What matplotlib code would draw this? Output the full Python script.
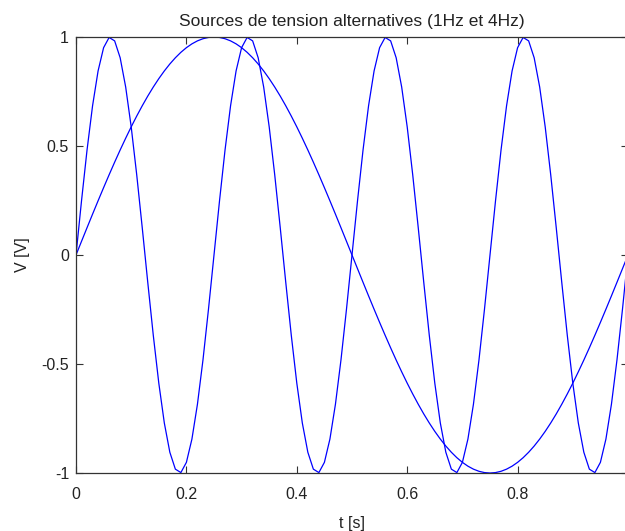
import matplotlib
matplotlib.use('Agg')
import matplotlib.pyplot as plt

t_s = [
    0.00, 0.01, 0.02, 0.03, 0.04, 0.05, 0.06, 0.07, 0.08, 0.09,
    0.10, 0.11, 0.12, 0.13, 0.14, 0.15, 0.16, 0.17, 0.18, 0.19,
    0.20, 0.21, 0.22, 0.23, 0.24, 0.25, 0.26, 0.27, 0.28, 0.29,
    0.30, 0.31, 0.32, 0.33, 0.34, 0.35, 0.36, 0.37, 0.38, 0.39,
    0.40, 0.41, 0.42, 0.43, 0.44, 0.45, 0.46, 0.47, 0.48, 0.49,
    0.50, 0.51, 0.52, 0.53, 0.54, 0.55, 0.56, 0.57, 0.58, 0.59,
    0.60, 0.61, 0.62, 0.63, 0.64, 0.65, 0.66, 0.67, 0.68, 0.69,
    0.70, 0.71, 0.72, 0.73, 0.74, 0.75, 0.76, 0.77, 0.78, 0.79,
    0.80, 0.81, 0.82, 0.83, 0.84, 0.85, 0.86, 0.87, 0.88, 0.89,
    0.90, 0.91, 0.92, 0.93, 0.94, 0.95, 0.96, 0.97, 0.98, 0.99,
    1.00,
]

v_1hz = [
    0.0000, 0.0628, 0.1253, 0.1874, 0.2487, 0.3090, 0.3681, 0.4258, 0.4818, 0.5358,
    0.5878, 0.6374, 0.6845, 0.7290, 0.7705, 0.8090, 0.8443, 0.8763, 0.9048, 0.9298,
    0.9511, 0.9686, 0.9823, 0.9921, 0.9980, 1.0000, 0.9980, 0.9921, 0.9823, 0.9686,
    0.9511, 0.9298, 0.9048, 0.8763, 0.8443, 0.8090, 0.7705, 0.7290, 0.6845, 0.6374,
    0.5878, 0.5358, 0.4818, 0.4258, 0.3681, 0.3090, 0.2487, 0.1874, 0.1253, 0.0628,
    0.0000, -0.0628, -0.1253, -0.1874, -0.2487, -0.3090, -0.3681, -0.4258, -0.4818, -0.5358,
    -0.5878, -0.6374, -0.6845, -0.7290, -0.7705, -0.8090, -0.8443, -0.8763, -0.9048, -0.9298,
    -0.9511, -0.9686, -0.9823, -0.9921, -0.9980, -1.0000, -0.9980, -0.9921, -0.9823, -0.9686,
    -0.9511, -0.9298, -0.9048, -0.8763, -0.8443, -0.8090, -0.7705, -0.7290, -0.6845, -0.6374,
    -0.5878, -0.5358, -0.4818, -0.4258, -0.3681, -0.3090, -0.2487, -0.1874, -0.1253, -0.0628,
    0.0000,
]

v_4hz = [
    0.0000, 0.2487, 0.4818, 0.6845, 0.8443, 0.9511, 0.9980, 0.9823, 0.9048, 0.7705,
    0.5878, 0.3681, 0.1253, -0.1253, -0.3681, -0.5878, -0.7705, -0.9048, -0.9823, -0.9980,
    -0.9511, -0.8443, -0.6845, -0.4818, -0.2487, 0.0000, 0.2487, 0.4818, 0.6845, 0.8443,
    0.9511, 0.9980, 0.9823, 0.9048, 0.7705, 0.5878, 0.3681, 0.1253, -0.1253, -0.3681,
    -0.5878, -0.7705, -0.9048, -0.9823, -0.9980, -0.9511, -0.8443, -0.6845, -0.4818, -0.2487,
    0.0000, 0.2487, 0.4818, 0.6845, 0.8443, 0.9511, 0.9980, 0.9823, 0.9048, 0.7705,
    0.5878, 0.3681, 0.1253, -0.1253, -0.3681, -0.5878, -0.7705, -0.9048, -0.9823, -0.9980,
    -0.9511, -0.8443, -0.6845, -0.4818, -0.2487, 0.0000, 0.2487, 0.4818, 0.6845, 0.8443,
    0.9511, 0.9980, 0.9823, 0.9048, 0.7705, 0.5878, 0.3681, 0.1253, -0.1253, -0.3681,
    -0.5878, -0.7705, -0.9048, -0.9823, -0.9980, -0.9511, -0.8443, -0.6845, -0.4818, -0.2487,
    0.0000,
]

x_ticks = [0, 0.2, 0.4, 0.6, 0.8, 1]
x_tick_labels = ['0', '0.2', '0.4', '0.6', '0.8', '1']
y_ticks = [-1, -0.5, 0, 0.5, 1]
y_tick_labels = ['-1', '-0.5', '0', '0.5', '1']

plt.rcParams['font.family'] = ['Liberation Sans', 'DejaVu Sans']

fig = plt.figure(figsize=(6.25, 5.31), dpi=100)
# axes run a little past the right edge, like the cropped original
ax = fig.add_axes([0.1216, 0.1092, 0.8832, 0.8211])

ax.plot(t_s, v_1hz, color='#0000ff', linewidth=0.9)
ax.plot(t_s, v_4hz, color='#0000ff', linewidth=0.9)

ax.set_xlim(0, 1)
ax.set_ylim(-1, 1)
ax.set_xticks(x_ticks)
ax.set_xticklabels(x_tick_labels)
ax.set_yticks(y_ticks)
ax.set_yticklabels(y_tick_labels)

ax.tick_params(direction='in', length=5, width=0.8, colors='#333333',
               labelcolor='#222222', labelsize=11.5, top=True, right=True)
ax.tick_params(axis='x', pad=10)
ax.tick_params(axis='y', pad=5)
for sp in ax.spines.values():
    sp.set_color('#333333')
    sp.set_linewidth(0.9)

ax.set_title('Sources de tension alternatives (1Hz et 4Hz)', fontsize=12.5,
             pad=8, color='#222222')
ax.set_xlabel('t [s]', fontsize=11.5, labelpad=10, color='#222222')
ax.set_ylabel('V [V]', fontsize=11.5, labelpad=8, color='#222222')

fig.savefig('out.png', dpi=100)
